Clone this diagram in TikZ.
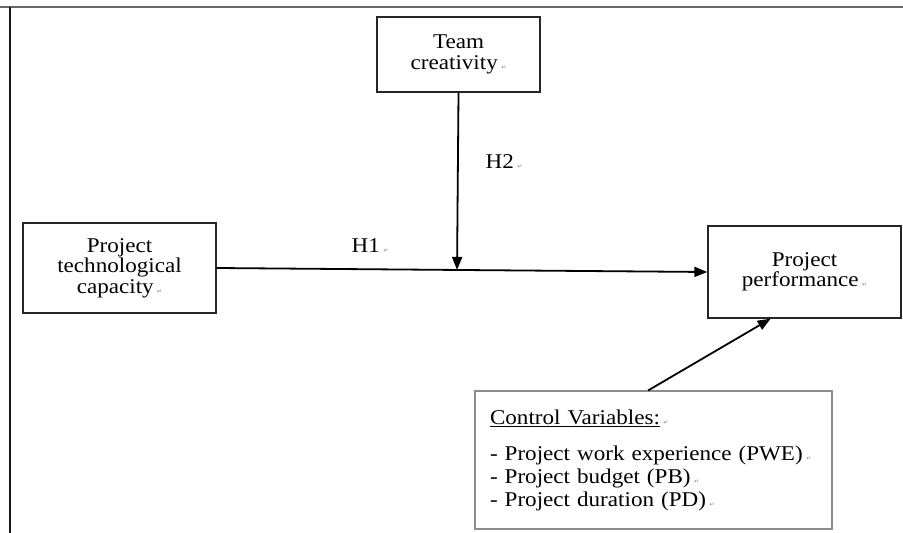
\documentclass[tikz,border=0pt]{standalone}
\usepackage{fontspec}
\setmainfont{Liberation Serif}[FakeStretch=1.1]
\newfontfamily\symfont{DejaVu Sans}
\usetikzlibrary{arrows.meta,calc}
\newcommand{\pmark}{\,{\symfont\fontsize{6}{6}\selectfont\color{gray}↵}}
\begin{document}
\begin{tikzpicture}[x=1pt,y=-1pt,
  box/.style={draw=black!85,line width=1.4pt,align=center,
    font=\fontsize{21}{20.5}\selectfont,inner sep=0pt},
  cvbox/.style={draw=black!45,line width=1.1pt,align=left,
    font=\fontsize{21}{23}\selectfont,inner xsep=15pt,inner ysep=0pt,
    text width=327pt,minimum height=138pt},
  conn/.style={line width=1.8pt,-{Triangle[length=13pt,width=10pt]}},
  lab/.style={font=\fontsize{21}{20}\selectfont,inner sep=0pt}]
\useasboundingbox (0,0) rectangle (903,533);
% frame
\draw[black!60,line width=2pt] (0,7) -- (903,7);
\draw[black!90,line width=1.5pt] (10,7) -- (10,533);
% nodes
\node[box,minimum width=163pt,minimum height=75pt] (team) at (458.5,54.5) {Team\\creativity\pmark};
\node[box,minimum width=193pt,minimum height=90pt] (tc) at (119.5,268) {Project\\technological\\capacity\pmark};
\node[box,minimum width=193pt,minimum height=92pt] (pp) at (804.5,272) {Project\\performance\pmark};
\node[cvbox] (cv) at (653.5,460) {\underline{Control Variables:}\pmark\\[13pt]
- Project work experience (PWE)\pmark\\
- Project budget (PB)\pmark\\
- Project duration (PD)\pmark};
% labels
\node[lab] (h1) at (370,246) {H1\pmark};
\node[lab] (h2) at (504,162) {H2\pmark};
% connectors
\draw[conn] (tc.east) -- (pp.west);
\coordinate (m) at ($(tc.east)!(team.south)!(pp.west)$);
\draw[conn] (team.south) -- (m);
\coordinate (cvs) at ($(cv.north west)!0.485!(cv.north east)$);
\coordinate (ppt) at ($(pp.south west)!0.326!(pp.south east)$);
\draw[conn] (cvs) -- (ppt);
\end{tikzpicture}
\end{document}
